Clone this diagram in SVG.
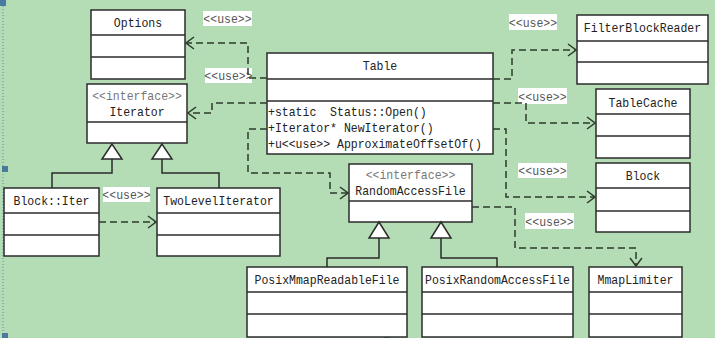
<svg xmlns="http://www.w3.org/2000/svg" width="715" height="338" viewBox="0 0 715 338">
<defs>
<style>
.box{fill:#fff;stroke:#2b2b2b;stroke-width:1.5}
.div{stroke:#2b2b2b;stroke-width:1.5}
text{font-family:"Liberation Mono",monospace;font-size:13px}
.t{fill:#222}
.st{fill:#777}
.c{text-anchor:middle}
.dash{fill:none;stroke:#2d3b2d;stroke-width:1.5;stroke-dasharray:7 4}
.gen{fill:none;stroke:#2b2b2b;stroke-width:1.5}
.tri{fill:#fff;stroke:#2b2b2b;stroke-width:1.5}
.lbl{fill:#fff}
.lt{fill:#555;text-anchor:middle}
.h{fill:#4a7aa0}
</style>
<marker id="open" viewBox="0 0 12 14" refX="11" refY="7" markerWidth="12" markerHeight="14" markerUnits="userSpaceOnUse" orient="auto">
<path d="M3,1 L11,7 L3,13" fill="none" stroke="#2d3b2d" stroke-width="1.5"/>
</marker>
</defs>
<rect width="715" height="338" fill="#b4ddb6"/>
<line x1="3" y1="0" x2="3" y2="338" stroke="#5a8ab0" stroke-width="1" stroke-dasharray="1 2"/>
<rect class="h" x="0" y="0" width="6" height="6"/>
<rect class="h" x="2" y="166" width="6" height="6"/>
<rect class="h" x="2" y="333" width="6" height="5"/>
<rect class="h" x="384" y="333" width="6" height="5"/>

<g id="labels">
<rect class="lbl" x="203" y="11" width="49" height="15"/><text class="lt" x="227.5" y="23" textLength="48.3" lengthAdjust="spacingAndGlyphs">&lt;&lt;use&gt;&gt;</text>
<rect class="lbl" x="205" y="68" width="47" height="15"/><text class="lt" x="228.5" y="80" textLength="48.3" lengthAdjust="spacingAndGlyphs">&lt;&lt;use&gt;&gt;</text>
<rect class="lbl" x="509" y="14" width="48" height="16"/><text class="lt" x="533" y="26.5" textLength="48.3" lengthAdjust="spacingAndGlyphs">&lt;&lt;use&gt;&gt;</text>
<rect class="lbl" x="518" y="88" width="49" height="16"/><text class="lt" x="542.5" y="100.5" textLength="48.3" lengthAdjust="spacingAndGlyphs">&lt;&lt;use&gt;&gt;</text>
<rect class="lbl" x="518" y="163" width="49" height="15"/><text class="lt" x="542.5" y="175" textLength="48.3" lengthAdjust="spacingAndGlyphs">&lt;&lt;use&gt;&gt;</text>
<rect class="lbl" x="525" y="213" width="49" height="16"/><text class="lt" x="549.5" y="225.5" textLength="48.3" lengthAdjust="spacingAndGlyphs">&lt;&lt;use&gt;&gt;</text>
<rect class="lbl" x="103" y="187" width="47" height="15"/><text class="lt" x="126.5" y="199" textLength="48.3" lengthAdjust="spacingAndGlyphs">&lt;&lt;use&gt;&gt;</text>
</g>

<g id="Options">
<rect class="box" x="91" y="10" width="94" height="69"/>
<line class="div" x1="91" y1="35" x2="185" y2="35"/>
<line class="div" x1="91" y1="57" x2="185" y2="57"/>
<text class="t c" x="138" y="26.5" textLength="48.3" lengthAdjust="spacingAndGlyphs">Options</text>
</g>

<g id="Iterator">
<rect class="box" x="87" y="84" width="100" height="59"/>
<line class="div" x1="87" y1="122" x2="187" y2="122"/>
<text class="st c" x="137" y="99.5" textLength="89.7" lengthAdjust="spacingAndGlyphs">&lt;&lt;interface&gt;&gt;</text>
<text class="t c" x="137" y="115.5" textLength="55.2" lengthAdjust="spacingAndGlyphs">Iterator</text>
</g>

<g id="BlockIter">
<rect class="box" x="4" y="188" width="95" height="68"/>
<line class="div" x1="4" y1="213" x2="99" y2="213"/>
<line class="div" x1="4" y1="235" x2="99" y2="235"/>
<text class="t c" x="51.5" y="204.5" textLength="75.9" lengthAdjust="spacingAndGlyphs">Block::Iter</text>
</g>

<g id="TwoLevelIterator">
<rect class="box" x="157" y="188" width="123" height="68"/>
<line class="div" x1="157" y1="213" x2="280" y2="213"/>
<line class="div" x1="157" y1="235" x2="280" y2="235"/>
<text class="t c" x="218.5" y="204.5" textLength="110.4" lengthAdjust="spacingAndGlyphs">TwoLevelIterator</text>
</g>

<g id="Table">
<rect class="box" x="267" y="53" width="226" height="101"/>
<line class="div" x1="267" y1="79" x2="493" y2="79"/>
<line class="div" x1="267" y1="101" x2="493" y2="101"/>
<text class="t c" x="380" y="69.5" textLength="34.5" lengthAdjust="spacingAndGlyphs">Table</text>
<text class="t" x="268" y="115.5" xml:space="preserve" textLength="158.7" lengthAdjust="spacingAndGlyphs">+static  Status::Open()</text>
<text class="t" x="268" y="131.5" textLength="165.6" lengthAdjust="spacingAndGlyphs">+Iterator* NewIterator()</text>
<text class="t" x="268" y="147.5" textLength="213.9" lengthAdjust="spacingAndGlyphs">+u&lt;&lt;use&gt;&gt; ApproximateOffsetOf()</text>
</g>

<g id="FilterBlockReader">
<rect class="box" x="577" y="15" width="131" height="69"/>
<line class="div" x1="577" y1="41" x2="708" y2="41"/>
<line class="div" x1="577" y1="62" x2="708" y2="62"/>
<text class="t c" x="642.5" y="31.5" textLength="117.3" lengthAdjust="spacingAndGlyphs">FilterBlockReader</text>
</g>

<g id="TableCache">
<rect class="box" x="596" y="89" width="94" height="69"/>
<line class="div" x1="596" y1="114" x2="690" y2="114"/>
<line class="div" x1="596" y1="136" x2="690" y2="136"/>
<text class="t c" x="643" y="106.5" textLength="69" lengthAdjust="spacingAndGlyphs">TableCache</text>
</g>

<g id="Block">
<rect class="box" x="596" y="163" width="94" height="69"/>
<line class="div" x1="596" y1="188" x2="690" y2="188"/>
<line class="div" x1="596" y1="211" x2="690" y2="211"/>
<text class="t c" x="643" y="180" textLength="34.5" lengthAdjust="spacingAndGlyphs">Block</text>
</g>

<g id="RandomAccessFile">
<rect class="box" x="349" y="164" width="123" height="58"/>
<line class="div" x1="349" y1="201" x2="472" y2="201"/>
<text class="st c" x="410.5" y="178.5" textLength="89.7" lengthAdjust="spacingAndGlyphs">&lt;&lt;interface&gt;&gt;</text>
<text class="t c" x="410.5" y="194.5" textLength="110.4" lengthAdjust="spacingAndGlyphs">RandomAccessFile</text>
</g>

<g id="PosixMmapReadableFile">
<rect class="box" x="247" y="267" width="160" height="70"/>
<line class="div" x1="247" y1="292" x2="407" y2="292"/>
<line class="div" x1="247" y1="314" x2="407" y2="314"/>
<text class="t c" x="327" y="283.5" textLength="144.9" lengthAdjust="spacingAndGlyphs">PosixMmapReadableFile</text>
</g>

<g id="PosixRandomAccessFile">
<rect class="box" x="422" y="267" width="151" height="70"/>
<line class="div" x1="422" y1="292" x2="573" y2="292"/>
<line class="div" x1="422" y1="314" x2="573" y2="314"/>
<text class="t c" x="497.5" y="283.5" textLength="144.9" lengthAdjust="spacingAndGlyphs">PosixRandomAccessFile</text>
</g>

<g id="MmapLimiter">
<rect class="box" x="589" y="267" width="93" height="70"/>
<line class="div" x1="589" y1="292" x2="682" y2="292"/>
<line class="div" x1="589" y1="314" x2="682" y2="314"/>
<text class="t c" x="635.5" y="283.5" textLength="75.9" lengthAdjust="spacingAndGlyphs">MmapLimiter</text>
</g>

<g id="connectors">
<path class="dash" d="M267,78 H248 V43 H186" marker-end="url(#open)"/>
<path class="dash" d="M267,103 H212 V113 H188" marker-end="url(#open)"/>
<path class="dash" d="M267,129 H248 V173 H330 V193 H348" marker-end="url(#open)"/>
<path class="dash" d="M493,79 H512 V50 H576" marker-end="url(#open)"/>
<path class="dash" d="M493,103 H526 V123 H595" marker-end="url(#open)"/>
<path class="dash" d="M493,129 H506 V197 H595" marker-end="url(#open)"/>
<path class="dash" d="M472,207 H515 V248 H636 V266" marker-end="url(#open)"/>
<path class="dash" d="M99,222 H156" marker-end="url(#open)"/>
<path class="gen" d="M52,188 V173 H112 V159"/>
<polygon class="tri" points="112,144 102,159 122,159"/>
<path class="gen" d="M219,188 V173 H162 V159"/>
<polygon class="tri" points="162,144 152,159 172,159"/>
<path class="gen" d="M327,267 V258 H379 V238"/>
<polygon class="tri" points="379,222 369,238 389,238"/>
<path class="gen" d="M497,267 V258 H441 V238"/>
<polygon class="tri" points="441,222 431,238 451,238"/>
</g>
</svg>
